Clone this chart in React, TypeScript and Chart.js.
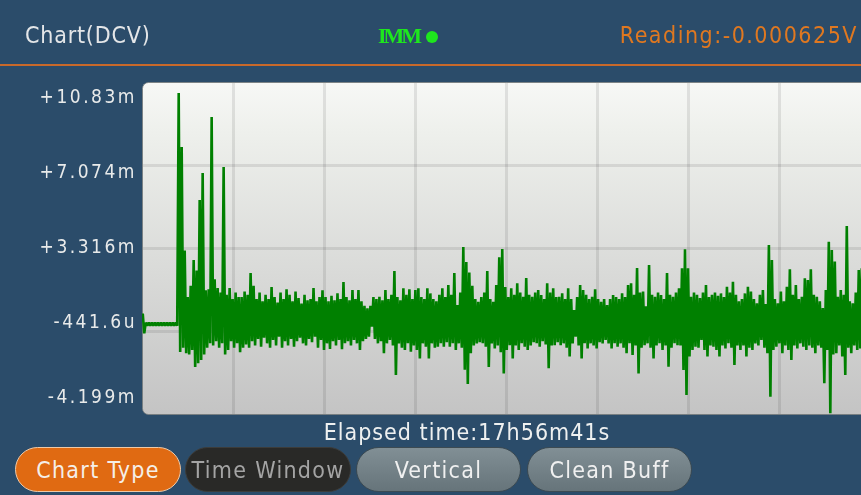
import React, { useEffect, useRef } from "react";
import { Chart, registerables } from "chart.js";

Chart.register(...registerables);

// Y axis (mV) tick values and their printed labels, top to bottom
const yTickValues = [10.83, 7.074, 3.316, -0.4416, -4.199];
const yTickLabels = ["+10.83m", "+7.074m", "+3.316m", "-441.6u", "-4.199m"];

// Number of time divisions across the plot
const timeDivisions = 8;

// Per display column: highest reading (mV)
const sampleHigh = [
  0.35, -0.06, -0.06, -0.06, -0.06, -0.06, -0.06, -0.06, -0.06, -0.06,
  -0.06, -0.06, 10.33, 7.89, 3.2, 1.1, 1.6, 2.77, 2.3, 5.49,
  6.71, 1.4, 1.45, 9.25, 1.9, 1.5, 1.3, 6.98, 1.2, 1.5,
  1.0, 1.3, 1.1, 1.1, 1.35, 1.2, 2.18, 1.6, 1.0, 1.3,
  0.9, 1.2, 1.0, 1.55, 1.1, 0.85, 1.3, 1.0, 1.45, 1.2,
  0.9, 1.35, 1.05, 0.8, 1.2, 0.95, 1.0, 1.5, 0.9, 1.1,
  1.4, 1.1, 0.9, 1.15, 0.95, 1.26, 1.0, 1.78, 1.1, 0.95,
  1.41, 1.0, 1.41, 0.9, 0.7, 0.58, 0.7, 1.1, 1.0, 1.11,
  0.95, 1.41, 1.0, 1.2, 2.27, 1.1, 0.95, 1.49, 1.2, 1.45,
  1.0, 1.41, 1.49, 1.1, 1.0, 1.49, 1.26, 1.0, 0.9, 1.2,
  1.49, 1.1, 1.64, 1.2, 2.18, 0.73, 1.3, 3.36, 2.68, 2.2,
  1.6, 1.0, 0.88, 1.1, 1.3, 2.27, 1.0, 0.88, 1.64, 2.9,
  3.27, 1.55, 1.1, 1.49, 1.2, 1.72, 1.3, 1.11, 1.96, 1.2,
  1.11, 1.3, 1.41, 1.19, 1.0, 1.72, 1.3, 1.49, 1.1, 1.11,
  1.26, 1.0, 1.49, 1.0, 0.51, 1.1, 1.64, 1.41, 1.2, 1.0,
  1.11, 1.45, 1.0, 0.88, 1.0, 0.73, 1.0, 1.19, 1.1, 1.0,
  1.26, 1.1, 1.64, 1.72, 1.2, 2.41, 1.3, 1.34, 0.68, 2.55,
  1.2, 1.11, 1.3, 1.19, 1.0, 2.18, 1.2, 1.11, 1.3, 1.49,
  2.4, 3.26, 2.4, 1.11, 1.3, 1.2, 1.05, 1.3, 1.64, 1.1,
  1.2, 1.3, 1.15, 1.26, 1.1, 1.56, 1.3, 1.79, 1.2, 0.9,
  1.0, 1.26, 1.56, 1.35, 1.0, 0.81, 1.2, 1.41, 0.78, 3.45,
  2.77, 1.0, 0.81, 1.35, 0.9, 1.56, 2.35, 1.2, 1.64, 1.0,
  1.11, 1.94, 1.87, 2.35, 1.2, 1.11, 0.9, 0.6, 1.41, 3.6,
  3.22, 2.7, 1.11, 1.41, 1.2, 4.31, 0.9, 0.81, 1.3, 2.32,
  2.4, 1.3, 1.2,
];

// Per display column: lowest reading (mV)
const sampleLow = [
  -0.55, -0.2, -0.2, -0.2, -0.2, -0.2, -0.2, -0.2, -0.2, -0.2,
  -0.2, -0.2, -1.39, -1.2, -1.45, -1.5, -1.3, -2.07, -1.9, -1.75,
  -1.5, -1.2, -1.0, -1.1, -0.9, -1.2, -1.0, -1.5, -1.3, -0.9,
  -1.2, -1.0, -1.4, -1.2, -1.05, -1.2, -0.9, -1.1, -0.8, -1.15,
  -0.75, -1.0, -1.2, -0.85, -1.1, -0.7, -1.2, -0.9, -1.1, -0.8,
  -1.15, -0.9, -0.75, -1.0, -1.1, -0.8, -0.95, -0.7, -1.2, -0.85,
  -1.3, -1.0, -1.25, -0.9, -1.1, -0.85, -1.27, -1.0, -0.9, -1.1,
  -0.85, -1.0, -1.3, -0.9, -0.8, -0.7, -0.25, -0.8, -1.0, -0.9,
  -1.45, -1.0, -0.85, -1.1, -2.43, -1.0, -1.2, -1.3, -1.0, -1.38,
  -1.1, -1.3, -1.68, -1.0, -1.15, -1.68, -1.0, -1.2, -1.15, -1.0,
  -1.15, -0.95, -1.15, -1.0, -1.3, -1.0, -1.2, -2.2, -2.84, -1.45,
  -1.1, -1.0, -0.95, -1.0, -1.15, -2.07, -1.0, -1.23, -1.1, -1.4,
  -2.36, -1.3, -1.08, -1.68, -1.1, -1.3, -1.0, -1.15, -1.3, -1.1,
  -0.95, -1.0, -1.15, -0.9, -1.05, -2.13, -1.1, -1.08, -0.95, -1.08,
  -1.0, -1.2, -1.6, -1.0, -0.7, -1.1, -1.68, -1.0, -1.23, -1.0,
  -1.1, -1.23, -0.95, -1.0, -0.85, -1.0, -1.23, -1.0, -1.15, -1.0,
  -1.2, -1.45, -1.0, -1.53, -1.1, -2.36, -1.2, -1.08, -1.0, -1.2,
  -1.68, -1.1, -1.0, -1.3, -1.1, -2.06, -1.2, -1.0, -1.08, -1.1,
  -2.21, -3.34, -1.6, -1.3, -1.15, -1.2, -0.85, -1.3, -1.6, -1.1,
  -1.15, -1.3, -1.6, -1.1, -1.23, -1.0, -1.2, -1.98, -1.1, -1.3,
  -1.1, -1.6, -1.2, -1.3, -1.0, -1.1, -0.85, -1.2, -1.45, -3.42,
  -1.3, -1.15, -1.0, -1.45, -1.1, -1.3, -1.75, -1.1, -1.23, -1.0,
  -1.15, -1.3, -1.1, -1.2, -1.45, -1.1, -1.2, -2.81, -1.3, -4.17,
  -1.5, -1.45, -1.1, -1.6, -2.43, -1.2, -1.45, -1.1, -1.3, -1.23,
  -1.15, -1.2, -1.1,
];

const headerTitle = "Chart(DCV)";
const headerMode = "IMM";
const headerReading = "Reading:-0.000625V";
const elapsedText = "Elapsed time:17h56m41s";
const buttonLabels = ["Chart Type", "Time Window", "Vertical", "Clean Buff"];

const FONT = "'DejaVu Sans Condensed', 'DejaVu Sans', sans-serif";

// trace points: each column's max then min, as the meter plots min/max per column
function buildTrace() {
  const pts: { x: number; y: number }[] = [];
  sampleHigh.forEach((h, i) => {
    pts.push({ x: i + 0.25, y: h });
    pts.push({ x: i + 0.75, y: sampleLow[i] });
  });
  return pts;
}

const screenPlugin = {
  id: "screen",
  beforeDatasetsDraw(chart: any) {
    const { ctx, chartArea: a } = chart;
    ctx.save();
    const g = ctx.createLinearGradient(0, a.top, 0, a.bottom);
    g.addColorStop(0, "#f7f8f6");
    g.addColorStop(0.15, "#eef0ec");
    g.addColorStop(1, "#c4c4c4");
    ctx.beginPath();
    ctx.roundRect(a.left + 0.5, a.top + 0.5, a.right - a.left, a.bottom - a.top, 6);
    ctx.fillStyle = g;
    ctx.fill();
    ctx.strokeStyle = "rgba(120,125,125,0.8)";
    ctx.lineWidth = 1;
    ctx.stroke();
    const xg = chart.scales.xg;
    const y = chart.scales.y;
    ctx.strokeStyle = "rgba(0,0,0,0.09)";
    ctx.lineWidth = 3;
    for (let k = 1; k < timeDivisions; k++) {
      const x = Math.round(xg.getPixelForValue(k)) + 0.5;
      ctx.beginPath();
      ctx.moveTo(x, a.top + 1);
      ctx.lineTo(x, a.bottom);
      ctx.stroke();
    }
    for (let k = 1; k < yTickValues.length - 1; k++) {
      const py = Math.round(y.getPixelForValue(yTickValues[k])) + 0.5;
      ctx.beginPath();
      ctx.moveTo(a.left + 1, py);
      ctx.lineTo(a.right, py);
      ctx.stroke();
    }
    ctx.restore();
  },
  afterDraw(chart: any) {
    const { ctx, chartArea: a } = chart;
    ctx.save();
    ctx.fillStyle = "#e8eaea";
    ctx.font = "19px " + FONT;
    try {
      (ctx as any).fontStretch = "condensed";
      (ctx as any).letterSpacing = "2.5px";
    } catch (e) {}
    ctx.textAlign = "right";
    ctx.textBaseline = "middle";
    const span = a.bottom - a.top - 32;
    yTickLabels.forEach((t, i) => {
      ctx.fillText(t, a.left - 5, a.top + 16 + (i * span) / (yTickLabels.length - 1));
    });
    ctx.restore();
  },
};

function Pill(props: { left: number; width: number; label: string; kind: string }) {
  const base: any = {
    position: "absolute",
    left: props.left,
    top: 447,
    width: props.width,
    height: 45,
    boxSizing: "border-box",
    borderRadius: 23,
    display: "flex",
    alignItems: "center",
    justifyContent: "center",
    fontSize: 23,
    letterSpacing: "1.3px",
    fontFamily: FONT,
    fontStretch: "condensed",
    whiteSpace: "nowrap",
  };
  if (props.kind === "active") {
    Object.assign(base, { background: "#e06a12", border: "1.5px solid #efc9a6", color: "#f5efe8" });
  } else if (props.kind === "dark") {
    Object.assign(base, { background: "#292927", border: "1px solid #3c3c3a", color: "#a4a4a4" });
  } else {
    Object.assign(base, {
      background: "linear-gradient(#818f95, #66747a)",
      border: "1.5px solid #3c4a52",
      color: "#f0f0f0",
    });
  }
  return <div style={base}>{props.label}</div>;
}

export default function App() {
  const ref = useRef<HTMLCanvasElement | null>(null);

  useEffect(() => {
    document.body.style.margin = "0";
    const canvas = ref.current;
    if (!canvas) return;
    const chart = new Chart(canvas, {
      type: "line",
      data: {
        datasets: [
          {
            data: buildTrace() as any,
            borderColor: "#008000",
            borderWidth: 2.6,
            borderJoinStyle: "bevel",
            pointRadius: 0,
            tension: 0,
            fill: false,
          },
        ],
      },
      options: {
        responsive: false,
        animation: false,
        events: [],
        layout: { padding: { left: 142, top: 82, right: 2, bottom: 81 } },
        plugins: { legend: { display: false }, tooltip: { enabled: false } },
        scales: {
          x: { type: "linear", display: false, offset: false, min: 0, max: sampleHigh.length },
          xg: { type: "linear", axis: "x", display: false, offset: false, min: 0, max: timeDivisions },
          y: {
            type: "linear",
            display: false,
            min: yTickValues[yTickValues.length - 1],
            max: yTickValues[0],
          },
        },
      } as any,
      plugins: [screenPlugin as any],
    });
    return () => chart.destroy();
  }, []);

  return (
    <div
      style={{
        position: "fixed",
        left: 0,
        top: 0,
        width: 861,
        height: 495,
        overflow: "hidden",
        background: "#2b4c6a",
        fontFamily: FONT,
        fontStretch: "condensed",
      }}
    >
      <canvas
        ref={ref}
        width={872}
        height={495}
        style={{ position: "absolute", left: 0, top: 0, width: 872, height: 495 }}
      />
      <div
        style={{
          position: "absolute",
          left: 25,
          top: 24,
          fontSize: 23,
          lineHeight: "23px",
          letterSpacing: "0.8px",
          color: "#e4e6e8",
        }}
      >
        {headerTitle}
      </div>
      <div
        style={{
          position: "absolute",
          left: 378,
          top: 25,
          fontFamily: "'Liberation Serif', serif",
          fontWeight: "bold",
          fontSize: 22,
          lineHeight: "22px",
          letterSpacing: "-3px",
          color: "#1ee61e",
        }}
      >
        {headerMode}
      </div>
      <div
        style={{
          position: "absolute",
          left: 426,
          top: 31,
          width: 12,
          height: 12,
          borderRadius: 6,
          background: "#1ee61e",
        }}
      />
      <div
        style={{
          position: "absolute",
          right: 3,
          top: 24,
          fontSize: 23,
          lineHeight: "23px",
          letterSpacing: "1.5px",
          color: "#e07820",
        }}
      >
        {headerReading}
      </div>
      <div
        style={{ position: "absolute", left: 0, top: 64, width: 861, height: 2, background: "#c9692a" }}
      />
      <div
        style={{
          position: "absolute",
          left: 0,
          width: 934,
          top: 421,
          textAlign: "center",
          fontSize: 23,
          lineHeight: "23px",
          letterSpacing: "1px",
          color: "#eef0f0",
        }}
      >
        {elapsedText}
      </div>
      <Pill left={15} width={166} label={buttonLabels[0]} kind="active" />
      <Pill left={185} width={166} label={buttonLabels[1]} kind="dark" />
      <Pill left={356} width={165} label={buttonLabels[2]} kind="gray" />
      <Pill left={527} width={165} label={buttonLabels[3]} kind="gray" />
    </div>
  );
}
